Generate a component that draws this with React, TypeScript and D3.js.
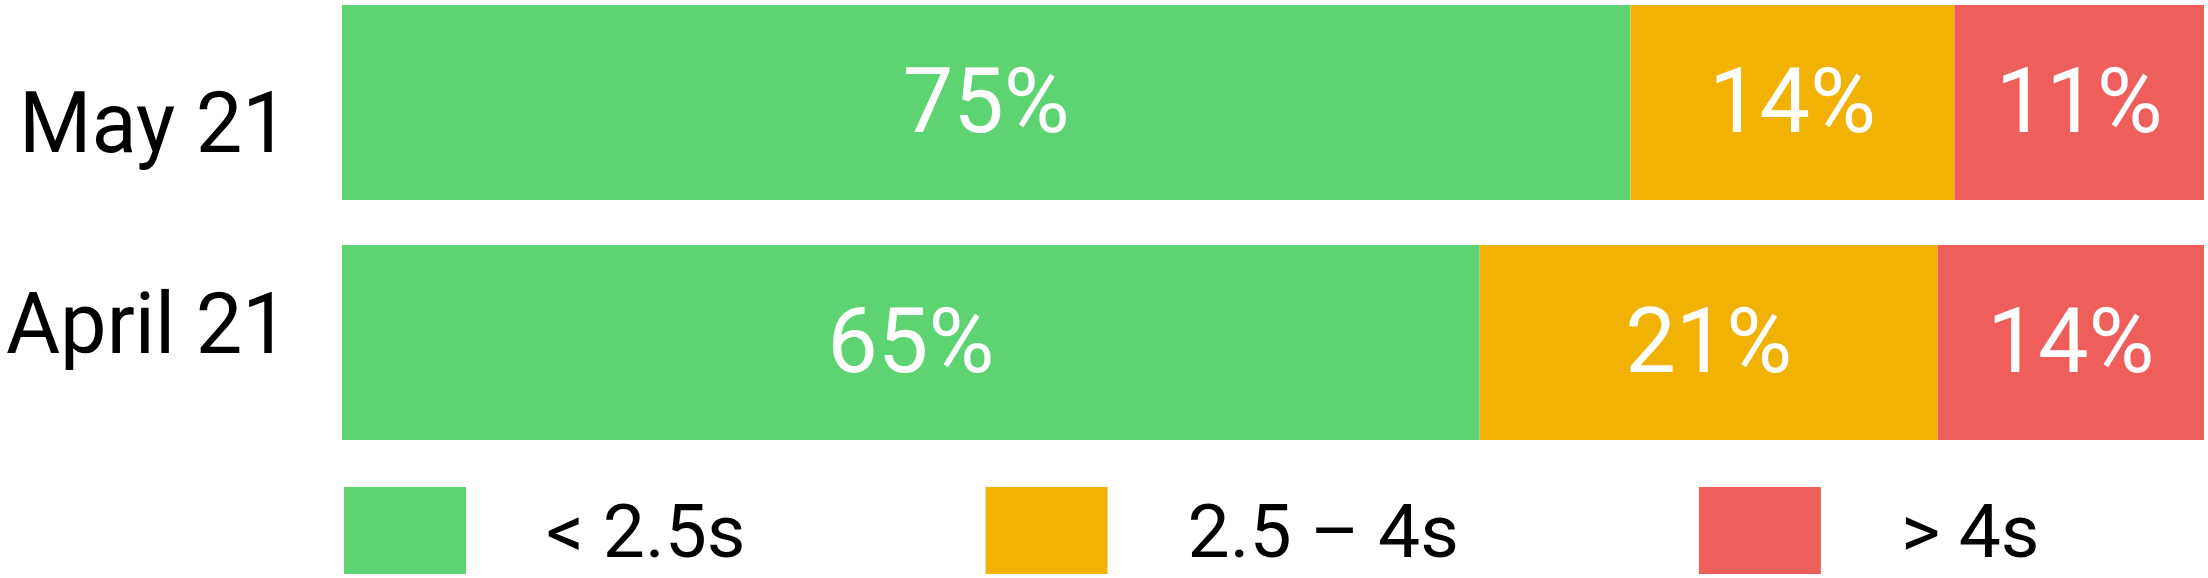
import React, { useEffect, useRef } from 'react';
import * as d3 from 'd3';

// ---- data ----
const categories = ['May 21', 'April 21'];
const seriesKeys = ['fast', 'medium', 'slow'];
const seriesNames = ['< 2.5s', '2.5 – 4s', '> 4s'];
const fastShare = [69.2, 61.1];
const mediumShare = [17.4, 24.6];
const slowShare = [13.4, 14.3];
const fastLabels = ['75%', '65%'];
const mediumLabels = ['14%', '21%'];
const slowLabels = ['11%', '14%'];
const seriesColors = ['#5dd371', '#f2b203', '#ee5f5b'];

const W = 2208;
const H = 578;
const FONT = "Roboto, 'Noto Sans', sans-serif";

export default function App() {
  const ref = useRef<SVGSVGElement | null>(null);

  useEffect(() => {
    const svg = d3.select(ref.current);
    svg.selectAll('*').remove();

    const rows = categories.map((c, i) => ({
      cat: c,
      fast: fastShare[i],
      medium: mediumShare[i],
      slow: slowShare[i],
    }));
    const labelsBySeries = [fastLabels, mediumLabels, slowLabels];

    const x = d3.scaleLinear().domain([0, 100]).range([342, 2204]);
    const y = d3.scaleBand().domain(categories).range([5, 440]).paddingInner(0.1875);
    const labelY = d3.scalePoint().domain(categories).range([152, 353]);
    const color = d3.scaleOrdinal<string, string>().domain(seriesKeys).range(seriesColors);

    const stacked = d3.stack<any>().keys(seriesKeys)(rows);

    const layers = svg
      .append('g')
      .selectAll('g')
      .data(stacked)
      .join('g')
      .attr('fill', (s) => color(s.key));

    layers
      .selectAll('rect')
      .data((s) => s.map((d) => d))
      .join('rect')
      .attr('x', (d) => x(d[0]))
      .attr('width', (d) => x(d[1]) - x(d[0]))
      .attr('y', (d) => y(d.data.cat)!)
      .attr('height', y.bandwidth());

    // value labels
    stacked.forEach((s, si) => {
      svg
        .append('g')
        .selectAll('text')
        .data(s)
        .join('text')
        .attr('x', (d) => (x(d[0]) + x(d[1])) / 2)
        .attr('y', (d) => y(d.data.cat)! + y.bandwidth() / 2 + 29)
        .attr('text-anchor', 'middle')
        .attr('fill', '#ffffff')
        .attr('font-family', FONT)
        .attr('font-size', 90)
        .text((d, i) => labelsBySeries[si][i]);
    });

    // category labels, fitted into the left label area
    const labelRight = 289;
    const labelLeft = 6;
    const catTexts = svg
      .append('g')
      .selectAll('text')
      .data(categories)
      .join('text')
      .attr('x', labelRight)
      .attr('y', (d) => labelY(d)!)
      .attr('text-anchor', 'end')
      .attr('fill', '#000')
      .attr('font-family', FONT)
      .attr('font-size', 86)
      .text((d) => d);
    const lens: number[] = [];
    catTexts.each(function () {
      lens.push((this as SVGTextElement).getComputedTextLength());
    });
    const maxLen = d3.max(lens) || 1;
    const k = Math.min(1, (labelRight - labelLeft) / maxLen);
    if (k < 1) {
      catTexts
        .attr('textLength', (d, i) => lens[i] * k)
        .attr('lengthAdjust', 'spacingAndGlyphs');
    }

    // legend
    const legend = svg.append('g');
    let cx = 344;
    const sq = 122;
    const sqH = 87;
    const sqTop = 487;
    const gapText = 80;
    const gapItem = 240;
    seriesKeys.forEach((key, i) => {
      legend
        .append('rect')
        .attr('x', cx)
        .attr('y', sqTop)
        .attr('width', sq)
        .attr('height', sqH)
        .attr('fill', color(key));
      const t = legend
        .append('text')
        .attr('x', cx + sq + gapText)
        .attr('y', 557)
        .attr('fill', '#000')
        .attr('font-family', FONT)
        .attr('font-size', 75)
        .text(seriesNames[i]);
      const w = (t.node() as SVGTextElement).getComputedTextLength();
      cx = cx + sq + gapText + w + gapItem;
    });
  }, []);

  return (
    <svg
      ref={ref}
      width={W}
      height={H}
      viewBox={`0 0 ${W} ${H}`}
      style={{ position: 'absolute', left: 0, top: 0, background: '#fff' }}
    />
  );
}
